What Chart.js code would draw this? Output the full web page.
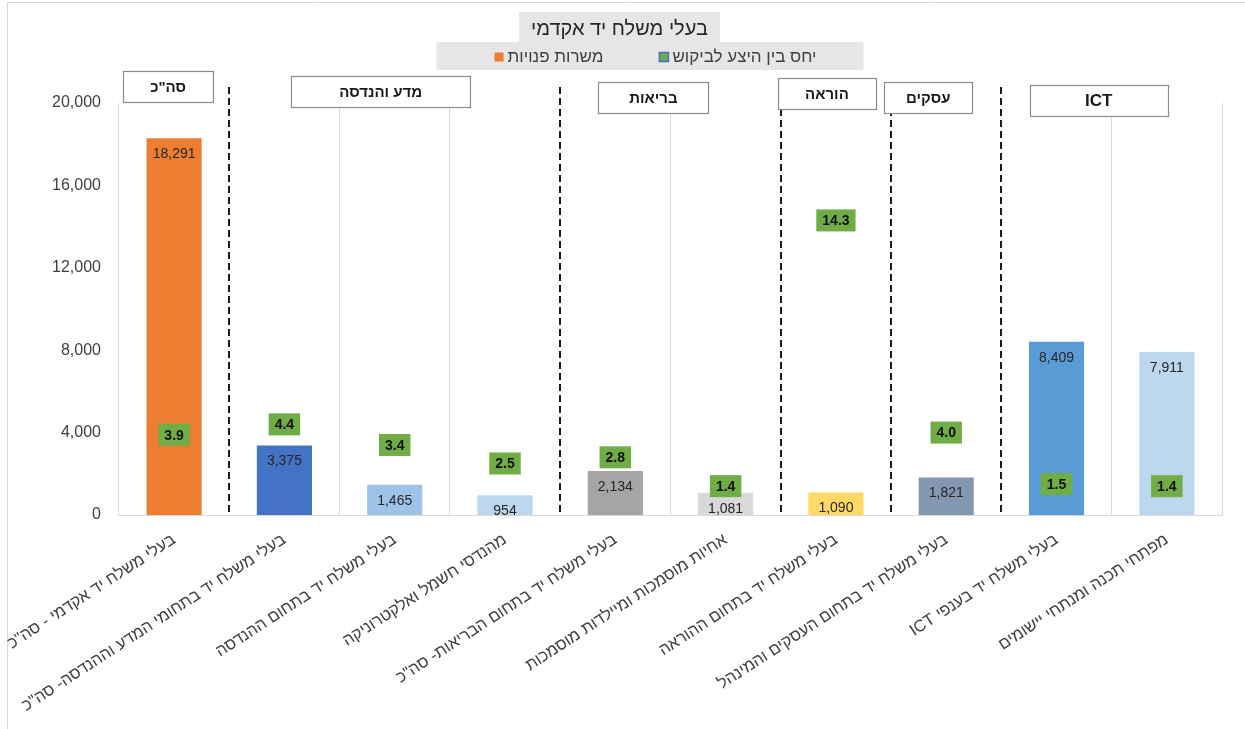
<!DOCTYPE html>
<html lang="he">
<head>
<meta charset="utf-8">
<title>בעלי משלח יד אקדמי</title>
<style>
  html, body { margin: 0; padding: 0; background: #ffffff; }
  #wrap { position: relative; width: 1245px; height: 729px; }
  canvas { display: block; }
</style>
<script src="https://cdn.jsdelivr.net/npm/chart.js@4.4.1/dist/chart.umd.min.js"></script>
</head>
<body>
<div id="wrap"><canvas id="chart" width="1245" height="729" dir="rtl"></canvas></div>
<script>
// ---- data ----
const chartTitle = 'בעלי משלח יד אקדמי';
const categories = [
  'בעלי משלח יד אקדמי - סה"כ',
  'בעלי משלח יד בתחומי המדע וההנדסה- סה"כ',
  'בעלי משלח יד בתחום ההנדסה',
  'מהנדסי חשמל ואלקטרוניקה',
  'בעלי משלח יד בתחום הבריאות- סה"כ',
  'אחיות מוסמכות ומיילדות מוסמכות',
  'בעלי משלח יד בתחום ההוראה',
  'בעלי משלח יד בתחום העסקים והמינהל',
  'בעלי משלח יד בענפי ICT',
  'מפתחי תכנה ומנתחי יישומים'
];
const vacancies = [18291, 3375, 1465, 954, 2134, 1081, 1090, 1821, 8409, 7911];
const supplyDemandRatio = [3.9, 4.4, 3.4, 2.5, 2.8, 1.4, 14.3, 4.0, 1.5, 1.4];
const yTicks = [0, 4000, 8000, 12000, 16000, 20000];
const seriesNames = ['משרות פנויות', 'יחס בין היצע לביקוש'];
const groupNames = ['סה"כ', 'מדע והנדסה', 'בריאות', 'הוראה', 'עסקים', 'ICT'];
const groupFirst = [0, 1, 4, 6, 7, 8];
const groupLast  = [0, 3, 5, 6, 7, 9];

// ---- styles ----
const FONT = '"Liberation Sans", Arial, "DejaVu Sans", sans-serif';
const barColors = ['#ED7D31', '#4472C4', '#9DC3E6', '#BDD7EE', '#A5A5A5',
                   '#D9D9D9', '#FFD966', '#8497B0', '#5B9BD5', '#BDD7EE'];
const ratioFill = '#70AD47';
const ratioEdge = '#4472C4';
const panelGray = '#E7E6E6';
// header box look per group: width, vertical offset from plot top, horizontal nudge, font size
const headerBoxStyle = [
  { w: 90,  dy: -32, dx: -6,  size: 15 },
  { w: 179, dy: -27, dx: -14, size: 15 },
  { w: 110, dy: -21, dx: -17, size: 15 },
  { w: 98,  dy: -25, dx: -9,  size: 15 },
  { w: 88,  dy: -21, dx: -18, size: 15 },
  { w: 138, dy: -18, dx: -13, size: 17 }
];

const fmt = v => v.toLocaleString('en-US');
const separatorIdx = new Set(groupFirst.slice(1));

Chart.defaults.font.family = FONT;
Chart.defaults.color = '#404040';

// frame, title panel, legend panel and annotations
const headerPlugin = {
  id: 'headerPanels',
  beforeDraw(chart) {
    const ctx = chart.ctx;
    const cx = chart.width / 2;
    ctx.save();
    // outer frame
    ctx.strokeStyle = '#D9D9D9';
    ctx.lineWidth = 1;
    ctx.beginPath();
    ctx.moveTo(7.5, chart.height);
    ctx.lineTo(7.5, 2.5);
    ctx.lineTo(chart.width, 2.5);
    ctx.stroke();

    // legend items built from the datasets
    ctx.font = '17px ' + FONT;
    const items = chart.data.datasets.map(ds => ({
      text: ds.label,
      fill: Array.isArray(ds.backgroundColor) ? ds.backgroundColor[0] : ds.backgroundColor,
      edge: ds.legendEdge || null,
      w: ctx.measureText(ds.label).width
    }));
    const box = 9, gapBox = 4, gapItem = 56;
    const total = items.reduce((s, it) => s + box + gapBox + it.w, 0) + gapItem * (items.length - 1);
    const legendCx = cx + 33, legendY = 57;
    const legendW = total + 105;
    ctx.fillStyle = panelGray;
    ctx.fillRect(legendCx - 5.5 - legendW / 2, 42, legendW, 28);

    // title panel
    ctx.font = '20px ' + FONT;
    const tw = ctx.measureText(chartTitle).width;
    ctx.fillStyle = panelGray;
    ctx.fillRect(cx - 3 - tw / 2 - 12, 12, tw + 24, 33);
    ctx.fillStyle = '#262626';
    ctx.textAlign = 'center';
    ctx.textBaseline = 'middle';
    ctx.fillText(chartTitle, cx - 3, 29);

    // legend entries
    let x = legendCx - total / 2;
    ctx.font = '17px ' + FONT;
    ctx.textBaseline = 'middle';
    ctx.textAlign = 'left';
    items.forEach(it => {
      ctx.fillStyle = it.fill;
      ctx.fillRect(x, legendY - box / 2, box, box);
      if (it.edge) {
        ctx.strokeStyle = it.edge;
        ctx.lineWidth = 1.5;
        ctx.strokeRect(x, legendY - box / 2, box, box);
      }
      x += box + gapBox;
      ctx.fillStyle = '#404040';
      ctx.fillText(it.text, x, legendY);
      x += it.w + gapItem;
    });
    ctx.restore();
  },
  beforeDatasetsDraw(chart) {
    // dashed separators between occupation groups
    const ctx = chart.ctx, xs = chart.scales.x, area = chart.chartArea;
    ctx.save();
    ctx.strokeStyle = '#1A1A1A';
    ctx.lineWidth = 2;
    ctx.setLineDash([7, 4]);
    groupFirst.slice(1).forEach(i => {
      const x = Math.round(xs.getPixelForValue(i - 0.5));
      ctx.beginPath();
      ctx.moveTo(x, area.top - 16);
      ctx.lineTo(x, area.bottom);
      ctx.stroke();
    });
    ctx.restore();
  },
  afterDatasetsDraw(chart) {
    const ctx = chart.ctx;
    ctx.save();
    ctx.textAlign = 'center';
    ctx.textBaseline = 'middle';
    // vacancy values inside the top of each bar
    const bars = chart.getDatasetMeta(0).data;
    ctx.font = '14px ' + FONT;
    ctx.fillStyle = '#262626';
    bars.forEach((bar, i) => {
      ctx.fillText(fmt(vacancies[i]), bar.x, bar.y + 16);
    });
    // supply/demand ratio tags
    const pts = chart.getDatasetMeta(1).data;
    ctx.font = 'bold 14px ' + FONT;
    pts.forEach((pt, i) => {
      const t = supplyDemandRatio[i].toFixed(1);
      const w = ctx.measureText(t).width + 12;
      const h = 22;
      ctx.fillStyle = ratioFill;
      ctx.fillRect(pt.x - w / 2, pt.y - h / 2, w, h);
      ctx.fillStyle = '#111111';
      ctx.fillText(t, pt.x, pt.y + 1);
    });
    ctx.restore();
  },
  afterDraw(chart) {
    // group header boxes
    const ctx = chart.ctx, xs = chart.scales.x, area = chart.chartArea;
    ctx.save();
    ctx.textAlign = 'center';
    ctx.textBaseline = 'middle';
    groupNames.forEach((name, g) => {
      const st = headerBoxStyle[g];
      const left = xs.getPixelForValue(groupFirst[g] - 0.5);
      const right = xs.getPixelForValue(groupLast[g] + 0.5);
      const cx = (left + right) / 2 + st.dx;
      const top = area.top + st.dy;
      const h = 31;
      ctx.fillStyle = '#FFFFFF';
      ctx.fillRect(cx - st.w / 2, top, st.w, h);
      ctx.strokeStyle = '#8C8C8C';
      ctx.lineWidth = 1.2;
      ctx.strokeRect(Math.round(cx - st.w / 2) + 0.5, Math.round(top) + 0.5, st.w, h);
      ctx.fillStyle = '#1A1A1A';
      ctx.font = 'bold ' + st.size + 'px ' + FONT;
      ctx.fillText(name, cx, top + h / 2 + 1);
    });
    ctx.restore();
  }
};

new Chart(document.getElementById('chart'), {
  data: {
    labels: categories,
    datasets: [
      {
        type: 'bar',
        label: seriesNames[0],
        data: vacancies,
        backgroundColor: barColors,
        borderWidth: 0,
        categoryPercentage: 1,
        barPercentage: 0.5,
        yAxisID: 'y',
        order: 2
      },
      {
        type: 'line',
        label: seriesNames[1],
        data: supplyDemandRatio,
        backgroundColor: ratioFill,
        borderColor: ratioEdge,
        legendEdge: ratioEdge,
        showLine: false,
        pointRadius: 0,
        yAxisID: 'y1',
        order: 1
      }
    ]
  },
  options: {
    responsive: false,
    animation: false,
    events: [],
    layout: { padding: { left: 34, right: 23, top: 103, bottom: 0 } },
    plugins: {
      legend: { display: false },
      title: { display: false },
      tooltip: { enabled: false }
    },
    scales: {
      x: {
        offset: true,
        afterFit: s => { s.paddingLeft = 0; s.height = 214; },
        grid: {
          offset: true,
          drawTicks: false,
          color: c => separatorIdx.has(c.index) ? 'rgba(0,0,0,0)' : '#D9D9D9',
          lineWidth: 1
        },
        border: { color: '#D9D9D9' },
        ticks: {
          autoSkip: false,
          minRotation: 33,
          maxRotation: 33,
          padding: 15,
          color: '#404040',
          font: { size: 16.5 }
        }
      },
      y: {
        min: 0,
        max: yTicks[yTicks.length - 1],
        afterBuildTicks: s => { s.ticks = yTicks.map(v => ({ value: v })); },
        grid: { display: false, drawTicks: false },
        border: { color: '#D9D9D9' },
        ticks: {
          padding: 18,
          color: '#404040',
          font: { size: 16 },
          callback: v => fmt(v)
        }
      },
      y1: {
        display: false,
        min: 0,
        max: 20
      }
    }
  },
  plugins: [headerPlugin]
});
</script>
</body>
</html>
